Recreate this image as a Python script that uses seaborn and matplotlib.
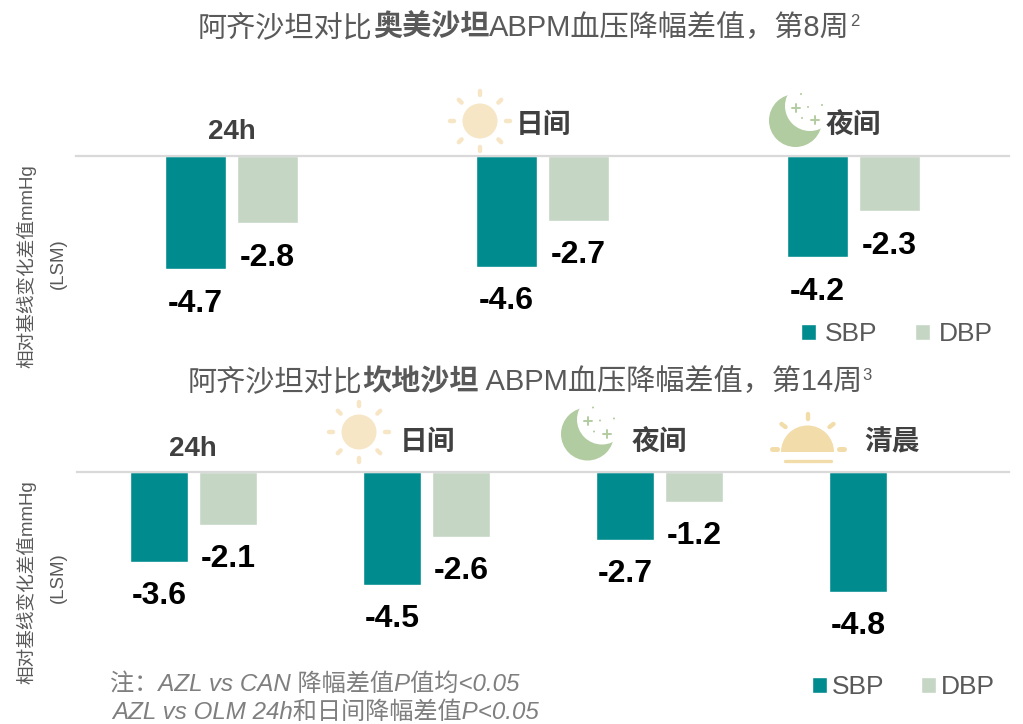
"""Rebuilds the two ABPM bar panels (azilsartan vs olmesartan / candesartan)."""
import numpy as np
import pandas as pd
import matplotlib
matplotlib.use("Agg")
import matplotlib.pyplot as plt
from matplotlib.patches import Circle, Wedge
import seaborn as sns

periods_top = ["24h", "日间", "夜间"]
sbp_top = [-4.7, -4.6, -4.2]
dbp_top = [-2.8, -2.7, -2.3]

periods_bottom = ["24h", "日间", "夜间", "清晨"]
sbp_bottom = [-3.6, -4.5, -2.7, -4.8]
dbp_bottom = [-2.1, -2.6, -1.2, np.nan]

W, H = 1023, 724
TEAL = "#008B8F"
SAGE = "#C5D6C4"
SUN = "#F6E6C5"
DAWN = "#F2DCA9"
MOON = "#B2CCA1"
GREY = "#595959"
DARK = "#404040"
FONT = ["Liberation Sans", "Noto Sans CJK SC"]
COMMA, COLON = "\uff0c", "\uff1a"


def long_table(periods, sbp, dbp):
    return pd.DataFrame({
        "period": periods * 2,
        "measure": ["SBP"] * len(periods) + ["DBP"] * len(periods),
        "value": list(sbp) + list(dbp),
    })


def panel(fig, box, df, ymin, width, gap, legend_xy, textpad, colspace):
    x0, y0, x1, y1 = box
    ax = fig.add_axes([x0 / W, 1 - y1 / H, (x1 - x0) / W, (y1 - y0) / H])
    sns.barplot(data=df, x="period", y="value", hue="measure", ax=ax,
                palette={"SBP": TEAL, "DBP": SAGE}, width=width, gap=gap,
                saturation=1, errorbar=None, zorder=1)
    ax.set_ylim(ymin, 0)
    ax.set_xlabel("")
    ax.set_ylabel("")
    ax.set_xticks([])
    ax.set_yticks([])
    for side in ["left", "right", "bottom"]:
        ax.spines[side].set_visible(False)
    ax.spines["top"].set_color("#D9D9D9")
    ax.spines["top"].set_linewidth(1.6)
    for c in ax.containers:
        ax.bar_label(c, fmt="%.1f", padding=14, fontsize=23,
                     fontweight="bold", color="black", family=FONT)
    ax.legend(loc="center", bbox_to_anchor=(legend_xy[0] / W, 1 - legend_xy[1] / H),
              bbox_transform=fig.transFigure, ncols=2, frameon=False,
              fontsize=19, labelcolor=GREY, handlelength=0.56, handleheight=0.56,
              handletextpad=textpad, columnspacing=colspace, borderpad=0)
    return ax


def run_text(ov, x, y, pieces):
    # lay mixed-weight pieces end to end on one baseline
    r = ov.figure.canvas.get_renderer()
    for s, size, weight, dy in pieces:
        t = ov.text(x, y + dy, s, fontsize=size, fontweight=weight, color=GREY,
                    family=FONT, va="baseline", ha="left")
        x = t.get_window_extent(r).x1


def sun(ov, cx, cy, r=17.5):
    ov.add_patch(Circle((cx, cy), r, color=SUN, lw=0))
    for a in np.arange(0, 360, 45):
        dx, dy = np.cos(np.radians(a)), np.sin(np.radians(a))
        ov.plot([cx + 26 * dx, cx + 30 * dx], [cy + 26 * dy, cy + 30 * dy],
                color=SUN, lw=3.2, solid_capstyle="round")


def moon(ov, cx, cy, r=26.5):
    ov.add_patch(Circle((cx, cy), r, color=MOON, lw=0))
    ov.add_patch(Circle((cx + 14.5, cy - 14.5), 25, color="white", lw=0))
    for px, py, s in [(0, -13, 8), (19.5, -0.5, 8)]:
        ov.plot([cx + px - s / 2, cx + px + s / 2], [cy + py, cy + py], color=MOON, lw=1.4)
        ov.plot([cx + px, cx + px], [cy + py - s / 2, cy + py + s / 2], color=MOON, lw=1.4)
    for px, py in [(12.5, -13.5), (26.5, -15.5), (6.5, -2.5), (5.5, -26.5)]:
        ov.add_patch(Circle((cx + px, cy + py), 1, color=MOON, lw=0))


def sunrise(ov, cx, base):
    ov.add_patch(Wedge((cx, base), 26.5, 180, 360, color=DAWN, lw=0))
    ov.plot([cx, cx], [414, 419], color=DAWN, lw=3.2, solid_capstyle="round")
    for sx in [-1, 1]:
        ov.plot([cx + sx * 22, cx + sx * 26], [427, 424], color=DAWN, lw=3.2, solid_capstyle="round")
        ov.plot([cx + sx * 31, cx + sx * 36], [449, 449], color=DAWN, lw=3.6, solid_capstyle="round")
    ov.plot([cx - 23, cx + 23], [461, 461], color=DAWN, lw=2.4, solid_capstyle="round")


def build():
    sns.set_theme(style="white")
    plt.rcParams["font.family"] = FONT
    fig = plt.figure(figsize=(W / 100, H / 100), dpi=100)

    top = long_table(periods_top, sbp_top, dbp_top)
    bottom = long_table(periods_bottom, sbp_bottom, dbp_bottom)
    panel(fig, (76, 155.5, 1009, 300), top, -144.5 / 24.2, 0.463, 0.155, (897, 334), 0.34, 1.45)
    panel(fig, (77, 472, 1009, 640), bottom, -168 / 25, 0.588, 0.15, (903.5, 687), 0.18, 1.4)

    # overlay in pixel units for titles, group names and icons
    ov = fig.add_axes([0, 0, 1, 1], zorder=5)
    ov.set_xlim(0, W)
    ov.set_ylim(H, 0)
    ov.axis("off")
    ov.patch.set_alpha(0)

    run_text(ov, 198, 36, [("阿齐沙坦对比", 21, "normal", 0), ("奥美沙坦", 21, "bold", 0),
                           ("ABPM血压降幅差值" + COMMA + "第8周", 21, "normal", 0), ("2", 12, "normal", -10)])
    run_text(ov, 188, 390, [("阿齐沙坦对比", 21, "normal", 0), ("坎地沙坦", 21, "bold", 0),
                            (" ABPM血压降幅差值" + COMMA + "第14周", 21, "normal", 0), ("3", 12, "normal", -10)])

    labels = [(232, 132, periods_top[0]), (543, 126, periods_top[1]), (853, 126, periods_top[2]),
              (193, 449, periods_bottom[0]), (427, 443, periods_bottom[1]),
              (659, 443, periods_bottom[2]), (892, 443, periods_bottom[3])]
    for x, y, s in labels:
        ov.text(x, y, s, fontsize=20, fontweight="bold", color=DARK, ha="center", va="center", family=FONT)

    sun(ov, 480, 121)
    moon(ov, 795.5, 120.5)
    sun(ov, 359, 432)
    moon(ov, 587.5, 434)
    sunrise(ov, 807.5, 452)

    for yc, ycl in [(266, 264), (582, 578)]:
        ov.text(26, yc, "相对基线变化差值mmHg", rotation=90, fontsize=13.4, color=GREY,
                ha="center", va="center", family=FONT)
        ov.text(58, ycl, "(LSM)", rotation=90, fontsize=13.4, color=GREY,
                ha="center", va="center", family=FONT)

    ov.text(110, 691, "注" + COLON + "AZL vs CAN 降幅差值P值均<0.05", fontsize=17.4, style="italic",
            color="#7F7F7F", family=FONT)
    ov.text(112, 719, "AZL vs OLM 24h和日间降幅差值P<0.05", fontsize=17.4, style="italic",
            color="#7F7F7F", family=FONT)

    fig.savefig("out.png", dpi=100)


if __name__ == "__main__":
    build()
